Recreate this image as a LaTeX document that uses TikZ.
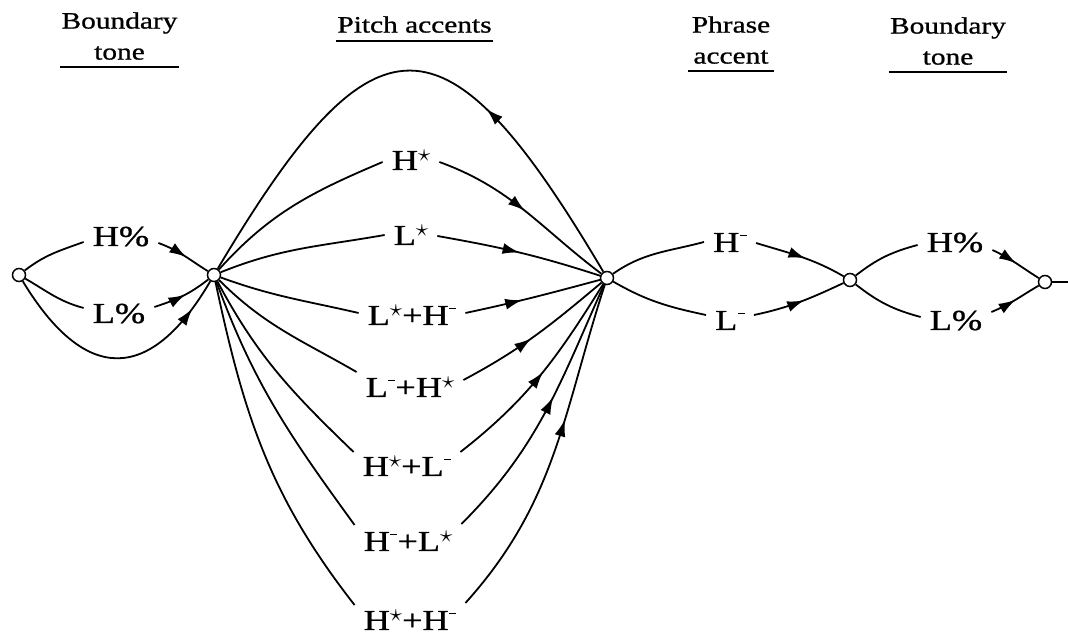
\documentclass[tikz,border=0pt]{standalone}
\usepackage{fontspec}
\setmainfont{Liberation Serif}
\newfontfamily\stretchedserif[FakeStretch=1.25,FakeBold=0.9]{Liberation Serif}
\usetikzlibrary{arrows.meta,decorations.markings}

% raised star and short raised dash for the tone diacritics
\newcommand\tstar{\raisebox{8pt}{\fontsize{25}{25}\selectfont$\star$}}
\newcommand\tdash{\kern0.5pt\raisebox{15.5pt}{\rule{7pt}{1.4pt}}}

\tikzset{
  conn/.style={line width=1.8pt},
  arr/.style={postaction={decorate},
    decoration={markings,mark=at position #1 with {\arrow{Latex[length=17pt,width=11pt]}}}},
  junction/.style={circle,draw,fill=white,line width=1.5pt,minimum size=13pt,inner sep=0pt},
  tonelabel/.style={font=\stretchedserif\fontsize{29}{34}\selectfont,
    inner xsep=9pt, inner ysep=0pt, anchor=base},
  heading/.style={font=\stretchedserif\fontsize{23.5}{31}\selectfont,
    align=center, anchor=south, inner xsep=1pt, inner ysep=7pt},
  uline/.style={line width=1.9pt}
}

\begin{document}
\begin{tikzpicture}[x=1pt,y=1pt]
\useasboundingbox (0,0) rectangle (1068,636);

% column headings
\node[heading] (h1) at (119.5,569) {Boundary\\tone};
\node[heading, inner ysep=8pt] (h2) at (414.5,595) {Pitch accents};
\node[heading, inner xsep=4pt] (h3) at (731,565) {Phrase\\accent};
\node[heading] (h4) at (948,564) {Boundary\\tone};
\foreach \h in {h1,h2,h3,h4}
  \draw[uline] (\h.south west) -- (\h.south east);

% junction points of the network
\node[junction] (A) at (19,361) {};
\node[junction] (B) at (214,361) {};
\node[junction] (C) at (607,358) {};
\node[junction] (D) at (850,356) {};
\node[junction] (E) at (1045,354) {};
\coordinate (exit) at (1068,354);

% tone labels
\node[tonelabel] (hL) at (121,390) {H\%};
\node[tonelabel] (lL) at (119,313) {L\%};
\node[tonelabel] (Hs) at (411,466) {H\tstar};
\node[tonelabel] (Ls) at (411,391) {L\tstar};
\node[tonelabel] (LsHm) at (412,311) {L\tstar+H\tdash};
\node[tonelabel] (LmHs) at (410,239) {L\tdash+H\tstar};
\node[tonelabel] (HsLm) at (407,160) {H\tstar+L\tdash};
\node[tonelabel] (HmLs) at (408,85) {H\tdash+L\tstar};
\node[tonelabel] (HsHm) at (410,6) {H\tstar+H\tdash};
\node[tonelabel] (Hr) at (730,384) {H\tdash};
\node[tonelabel] (Lr) at (730,306) {L\tdash};
\node[tonelabel] (HPr) at (955,384) {H\%};
\node[tonelabel] (LPr) at (956,306) {L\%};

% initial boundary tone
\draw[conn] (A) to[out=38,in=200] ([yshift=4pt]hL.base west);
\draw[conn,arr=0.55] ([yshift=3pt]hL.base east) to[out=-20,in=148] (B);
\draw[conn] (A) to[out=-30,in=165] ([yshift=15pt]lL.base west);
\draw[conn,arr=0.55] ([yshift=16pt]lL.base east) to[out=18,in=218] (B);
\draw[conn,arr=0.87] (A) .. controls (85,252) and (150,252) .. (B);

% pitch accents, with the loop back for further accents
\draw[conn,arr=0.35] (C) .. controls (445,632) and (375,632) .. (B);
\draw[conn] (B) to[out=48,in=203] ([yshift=8pt]Hs.base west);
\draw[conn,arr=0.5] ([yshift=8pt]Hs.base east) to[out=-20,in=143] (C);
\draw[conn] (B) to[out=22,in=190] ([yshift=10pt]Ls.base west);
\draw[conn,arr=0.5] ([yshift=9pt]Ls.base east) to[out=-10,in=162] (C);
\draw[conn] (B) to[out=-20,in=167] ([yshift=12pt]LsHm.base west);
\draw[conn,arr=0.42] ([yshift=12pt]LsHm.base east) to[out=12,in=195] (C);
\draw[conn] (B) to[out=-45,in=150] ([yshift=25pt]LmHs.base west);
\draw[conn,arr=0.47] ([yshift=17pt]LmHs.base east) to[out=28,in=220] (C);
\draw[conn] (B) to[out=-62,in=136] ([yshift=24pt]HsLm.base west);
\draw[conn,arr=0.52] ([yshift=24pt]HsLm.base east) to[out=38,in=238] (C);
\draw[conn] (B) to[out=-70,in=126] ([yshift=26pt]HmLs.base west);
\draw[conn,arr=0.56] ([yshift=27pt]HmLs.base east) to[out=45,in=246] (C);
\draw[conn] (B) to[out=-78,in=128] ([yshift=25pt]HsHm.base west);
\draw[conn,arr=0.6] ([yshift=27pt]HsHm.base east) to[out=48,in=252] (C);

% phrase accent
\draw[conn] (C) to[out=35,in=195] ([yshift=10pt]Hr.base west);
\draw[conn,arr=0.55] ([yshift=9pt]Hr.base east) to[out=-17,in=150] (D);
\draw[conn] (C) to[out=-30,in=168] ([yshift=15pt]Lr.base west);
\draw[conn,arr=0.55] ([yshift=15pt]Lr.base east) to[out=12,in=205] (D);

% final boundary tone
\draw[conn] (D) to[out=38,in=195] ([yshift=7pt]HPr.base west);
\draw[conn,arr=0.5] ([yshift=2pt]HPr.base east) to[out=-25,in=148] (E);
\draw[conn] (D) to[out=-38,in=165] ([yshift=13pt]LPr.base west);
\draw[conn,arr=0.5] ([yshift=18pt]LPr.base east) to[out=22,in=210] (E);
\draw[conn] (E) -- (exit);
\end{tikzpicture}
\end{document}
